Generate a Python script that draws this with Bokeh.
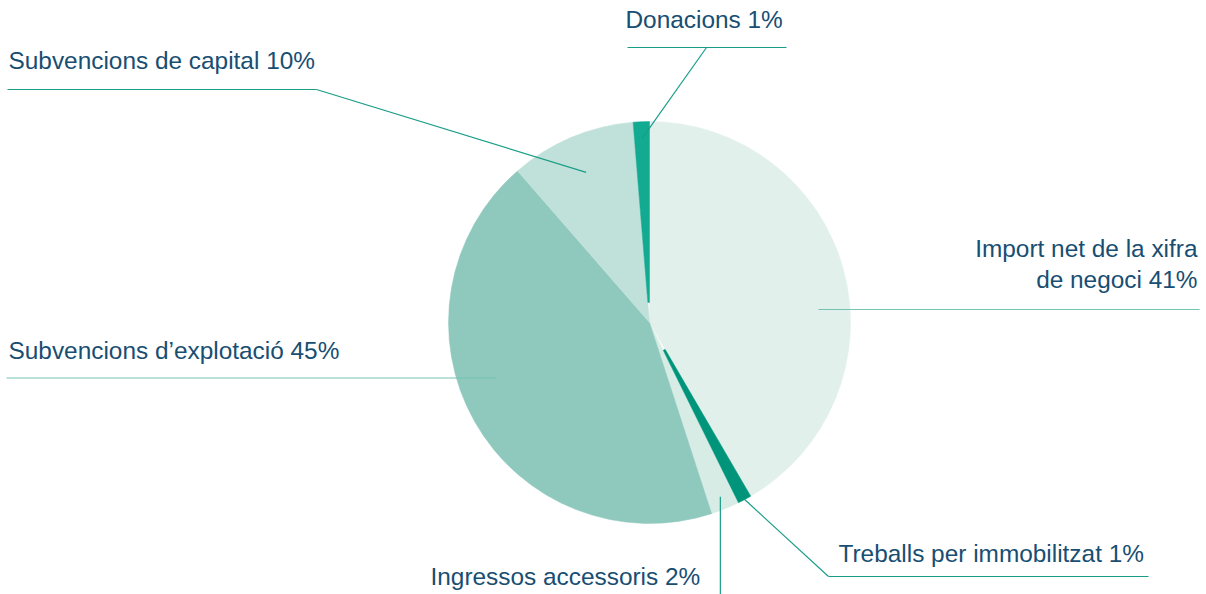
import math
from bokeh.plotting import figure
from bokeh.models import Range1d, ColumnDataSource
from bokeh.core.properties import value
from bokeh.embed import file_html
from bokeh.resources import INLINE

# ---- data ----
categories = ["Import net de la xifra de negoci", "Treballs per immobilitzat",
              "Ingressos accessoris", "Subvencions d’explotació",
              "Subvencions de capital", "Donacions"]
shares = [41.6, 1.1, 2.3, 43.6, 10.1, 1.3]
pct_labels = ["41%", "1%", "2%", "45%", "10%", "1%"]
colors = ["#e1f0eb", "#00957a", "#d6ece5", "#8fc9bd", "#c0e1d9", "#12ab92"]
inner = [0, 31, 0, 0, 0, 20]

W, H = 1206, 594
CX, CY, R = 649, 322, 201


def Y(y):
    return H - y


p = figure(width=W, height=H, x_range=Range1d(0, W), y_range=Range1d(0, H),
           output_backend="svg", toolbar_location=None, min_border=0)
p.axis.visible = False
p.grid.visible = False
p.outline_line_color = None
p.background_fill_color = "white"
p.border_fill_color = "white"

total = sum(shares)
starts, ends, mids = [], [], []
c = 0.0
for s in shares:
    a0 = c / total
    c += s
    a1 = c / total
    starts.append(math.pi / 2 - a0 * 2 * math.pi)
    ends.append(math.pi / 2 - a1 * 2 * math.pi)
    mids.append((a0 + a1) / 2 * 2 * math.pi)  # clockwise from top

full = [i for i in range(len(shares)) if inner[i] == 0]
ring = [i for i in range(len(shares)) if inner[i] > 0]

src_full = ColumnDataSource(dict(
    x=[CX] * len(full), y=[Y(CY)] * len(full),
    s=[starts[i] for i in full], e=[ends[i] for i in full],
    c=[colors[i] for i in full]))
p.wedge(x="x", y="y", radius=R, start_angle="s", end_angle="e",
        direction="clock", fill_color="c", line_color="c", line_width=0.5,
        source=src_full)

src_ring = ColumnDataSource(dict(
    x=[CX] * len(ring), y=[Y(CY)] * len(ring),
    ir=[inner[i] for i in ring],
    s=[starts[i] for i in ring], e=[ends[i] for i in ring],
    c=[colors[i] for i in ring]))
p.annular_wedge(x="x", y="y", inner_radius="ir", outer_radius=R,
                start_angle="s", end_angle="e", direction="clock",
                fill_color="c", line_color="c", line_width=0.5, source=src_ring)


def polar(i, r):
    a = mids[i]
    return CX + r * math.sin(a), CY - r * math.cos(a)


dark = "#1a9d88"
light = "#74c4b4"

# leader lines (pixel coords, y down)
leaders = []
# Donacions
ax, ay = polar(5, 184)
leaders.append(([627, 786], [47, 47], dark))
leaders.append(([706, ax], [47, ay], dark))
# Subvencions de capital
ax, ay = polar(4, 163)
leaders.append(([7, 316], [89, 89], dark))
leaders.append(([316, ax], [89, ay], dark))
# Import net
leaders.append(([818, 1199], [309, 309], light))
# Subvencions d'explotació
leaders.append(([6, 496], [377.5, 377.5], light))
# Treballs
ax, ay = polar(1, 201)
leaders.append(([ax, 828], [ay, 576], dark))
leaders.append(([828, 1148], [576, 576], dark))
# Ingressos
ax, ay = polar(2, 188)
leaders.append(([ax, ax], [ay, 600], dark))

for xs, ys, col in leaders:
    p.line(xs, [Y(v) for v in ys], line_color=col, line_width=1.2)

txt_color = "#174e72"
font = value("Liberation Sans")
dy = -9
texts = [
    (625, 28, categories[5] + " " + pct_labels[5], "left"),
    (8, 69, categories[4] + " " + pct_labels[4], "left"),
    (1197, 257, "Import net de la xifra", "right"),
    (1197, 288, "de negoci " + pct_labels[0], "right"),
    (8, 359, categories[3] + " " + pct_labels[3], "left"),
    (838, 562, categories[1] + " " + pct_labels[1], "left"),
    (430, 585, categories[2] + " " + pct_labels[2], "left"),
]
for x, y, t, al in texts:
    p.text(x=[x], y=[Y(y + dy)], text=[t], text_font=font,
           text_font_size="24.4px", text_color=txt_color, text_align=al,
           text_baseline="alphabetic")

open("out.html", "w").write(file_html(p, INLINE))
